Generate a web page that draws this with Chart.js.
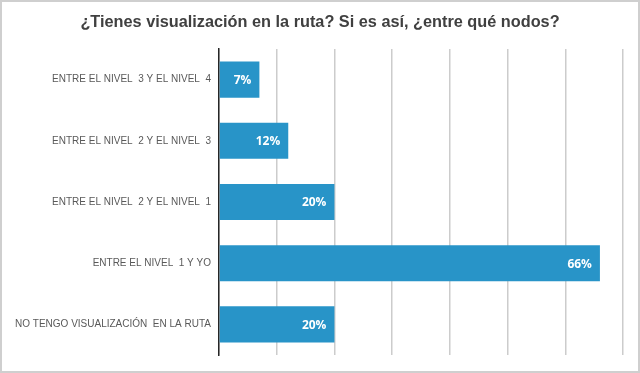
<!DOCTYPE html>
<html>
<head>
<meta charset="utf-8">
<script src="https://cdn.jsdelivr.net/npm/chart.js@4"></script>
<style>
html,body{margin:0;padding:0;background:#fff;}
#wrap{position:absolute;left:0;top:0;width:640px;height:373px;}
</style>
</head>
<body>
<div id="wrap"><canvas id="c" width="640" height="373"></canvas></div>
<script>
const titleText = '¿Tienes visualización en la ruta? Si es así, ¿entre qué nodos?';
const categories = [
  'ENTRE EL NIVEL  3 Y EL NIVEL  4',
  'ENTRE EL NIVEL  2 Y EL NIVEL  3',
  'ENTRE EL NIVEL  2 Y EL NIVEL  1',
  'ENTRE EL NIVEL  1 Y YO',
  'NO TENGO VISUALIZACIÓN  EN LA RUTA'
];
const values = [7, 12, 20, 66, 20];
const axisMin = 0;
const axisMax = 70;
const axisStep = 10;

const framePlugin = {
  id: 'frame',
  afterDraw(chart) {
    const ctx = chart.ctx;
    ctx.save();
    ctx.strokeStyle = '#cfcfcf';
    ctx.lineWidth = 2;
    ctx.strokeRect(1, 1, chart.width - 2, chart.height - 2);
    ctx.fillStyle = '#404040';
    ctx.font = 'bold 16.3px "Liberation Sans", Arial, sans-serif';
    ctx.textAlign = 'center';
    ctx.textBaseline = 'middle';
    ctx.fillText(titleText, chart.width / 2, 23);
    ctx.restore();
  }
};

const valueLabels = {
  id: 'valueLabels',
  afterDatasetsDraw(chart) {
    const ctx = chart.ctx;
    const meta = chart.getDatasetMeta(0);
    ctx.save();
    ctx.fillStyle = '#ffffff';
    ctx.font = 'bold 12px "Open Sans"';
    ctx.textAlign = 'right';
    ctx.textBaseline = 'middle';
    meta.data.forEach((bar, i) => {
      ctx.fillText(values[i] + '%', bar.x - 8, bar.y + 1);
    });
    ctx.restore();
  }
};

new Chart(document.getElementById('c'), {
  type: 'bar',
  data: {
    labels: categories,
    datasets: [{
      data: values,
      backgroundColor: '#2894c8',
      borderWidth: 0,
      categoryPercentage: 1,
      barPercentage: 0.59
    }]
  },
  options: {
    indexAxis: 'y',
    responsive: false,
    animation: false,
    layout: { padding: { left: 0, right: 17, top: 49, bottom: 18 } },
    plugins: {
      legend: { display: false },
      tooltip: { enabled: false },
      title: { display: false }
    },
    scales: {
      x: {
        min: axisMin,
        max: axisMax,
        ticks: { display: false, stepSize: axisStep },
        grid: { color: '#cccccc', lineWidth: 1.5, drawTicks: false },
        border: { display: false }
      },
      y: {
        ticks: {
          color: '#595959',
          padding: 8,
          font: { family: '"Liberation Sans", Arial, sans-serif', size: 10 }
        },
        grid: { display: false, drawTicks: false },
        border: { display: true, color: '#262626', width: 1.5 },
        afterFit(scale) { scale.width = 219; }
      }
    }
  },
  plugins: [framePlugin, valueLabels]
});
</script>
</body>
</html>
